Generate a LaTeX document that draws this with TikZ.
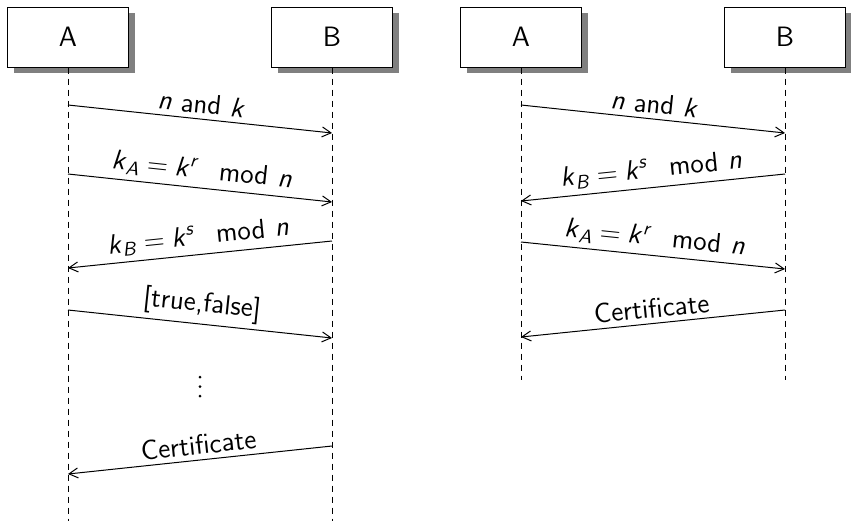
\documentclass[tikz,border=0pt]{standalone}
\usetikzlibrary{arrows.meta,shadows}
\newcommand{\mv}[1]{\textit{#1}}
\newcommand{\kA}{\mv{k}\textsubscript{\mv{A}}\hspace{0.25em}=\hspace{0.25em}\mv{k}\textsuperscript{\mv{r}}\hspace{0.75em}mod\hspace{0.35em}\mv{n}}
\newcommand{\kB}{\mv{k}\textsubscript{\mv{B}}\hspace{0.25em}=\hspace{0.25em}\mv{k}\textsuperscript{\mv{s}}\hspace{0.75em}mod\hspace{0.35em}\mv{n}}
\newcommand{\nk}{\mv{n} and \mv{k}}
\begin{document}
\begin{tikzpicture}[x=0.5pt,y=-0.5pt,
  actor/.style={draw, line width=0.5pt, fill=white, minimum width=60.5pt, minimum height=30pt, inner sep=0pt,
    drop shadow={shadow xshift=3pt, shadow yshift=-3pt, fill=gray, opacity=1},
    font=\sffamily\fontsize{14}{16}\selectfont},
  life/.style={line width=0.5pt, dash pattern=on 3pt off 2.5pt},
  msg/.style={-{Straight Barb[length=4.5pt,width=5pt]}, line width=0.5pt},
  lbl/.style={above, sloped, midway, font=\sffamily\fontsize{13.8}{16}\selectfont, inner sep=2.5pt},
  dot/.style={fill, circle, inner sep=0pt, minimum size=1.5pt}]
\useasboundingbox (0,0) rectangle (851,521);
% left diagram
\node[actor] (A1) at (68,37) {A};
\node[actor] (B1) at (332,37) {B};
\coordinate (A1e) at (68,521);
\coordinate (B1e) at (332,521);
\draw[life] (A1.south) -- (A1e);
\draw[life] (B1.south) -- (B1e);
\coordinate (a1) at (68,105);  \coordinate (b1) at (332,133);
\coordinate (a2) at (68,174);  \coordinate (b2) at (332,202);
\coordinate (b3) at (332,241); \coordinate (a3) at (68,268);
\coordinate (a4) at (68,310);  \coordinate (b4) at (332,338);
\coordinate (b6) at (332,446); \coordinate (a6) at (68,474);
\draw[msg] (a1) -- node[lbl] {\nk} (b1);
\draw[msg] (a2) -- node[lbl] {\kA} (b2);
\draw[msg] (b3) -- node[lbl] {\kB} (a3);
\draw[msg] (a4) -- node[lbl] {[true,false]} (b4);
\node[dot] (v1) at (200,377) {};
\node[dot] (v2) at (200,386.5) {};
\node[dot] (v3) at (200,396) {};
\draw[msg] (b6) -- node[lbl] {Certificate} (a6);
% right diagram
\node[actor] (A2) at (521,37) {A};
\node[actor] (B2) at (785,37) {B};
\coordinate (A2e) at (521,380);
\coordinate (B2e) at (785,380);
\draw[life] (A2.south) -- (A2e);
\draw[life] (B2.south) -- (B2e);
\coordinate (c1) at (521,105); \coordinate (d1) at (785,133);
\coordinate (d2) at (785,174); \coordinate (c2) at (521,201);
\coordinate (c3) at (521,242); \coordinate (d3) at (785,269);
\coordinate (d4) at (785,310); \coordinate (c4) at (521,337);
\draw[msg] (c1) -- node[lbl] {\nk} (d1);
\draw[msg] (d2) -- node[lbl] {\kB} (c2);
\draw[msg] (c3) -- node[lbl] {\kA} (d3);
\draw[msg] (d4) -- node[lbl] {Certificate} (c4);
\end{tikzpicture}
\end{document}
